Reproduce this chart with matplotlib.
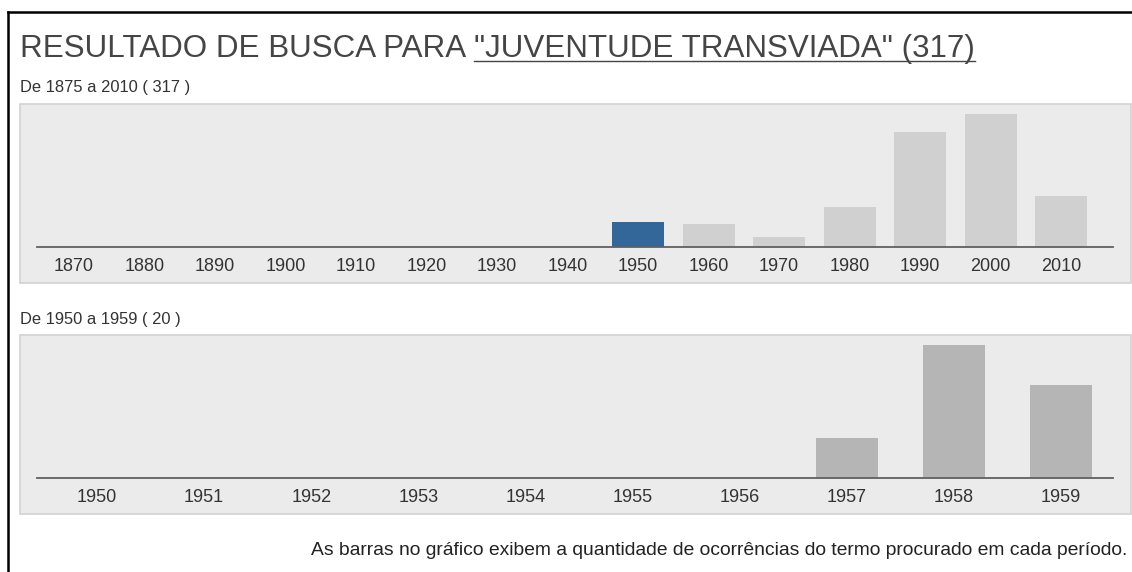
import matplotlib
matplotlib.use("Agg")
import matplotlib.pyplot as plt
from matplotlib.patches import Rectangle
from matplotlib.lines import Line2D

# data
decades = [1870, 1880, 1890, 1900, 1910, 1920, 1930, 1940,
           1950, 1960, 1970, 1980, 1990, 2000, 2010]
decade_counts = [0, 0, 0, 0, 0, 0, 0, 0, 20, 18, 8, 32, 92, 106, 41]
highlight_decade = 1950

years = [1950, 1951, 1952, 1953, 1954, 1955, 1956, 1957, 1958, 1959]
year_counts = [0, 0, 0, 0, 0, 0, 0, 3, 10, 7]

title_plain = "RESULTADO DE BUSCA PARA"
title_link = '"JUVENTUDE TRANSVIADA" (317)'
sub1 = "De 1875 a 2010 ( 317 )"
sub2 = "De 1950 a 1959 ( 20 )"
footer = ("As barras no gráfico exibem a quantidade de ocorrências "
          "do termo procurado em cada período.")

W, H = 1132, 572
plt.rcParams["font.family"] = ["Liberation Sans", "DejaVu Sans"]

fig = plt.figure(figsize=(W / 100, H / 100), dpi=100)
fig.patch.set_facecolor("white")


def fx(px):
    return px / W


def fy(py):
    return 1 - py / H


# page border (left and top)
fig.add_artist(Line2D([fx(8), fx(8)], [fy(12), fy(572)], color="black",
                      lw=1.8, transform=fig.transFigure))
fig.add_artist(Line2D([fx(8), fx(1132)], [fy(12), fy(12)], color="black",
                      lw=1.8, transform=fig.transFigure))

# title, second half underlined
t1 = fig.text(fx(20), fy(57), title_plain, fontsize=22.6, color="#454545",
              va="baseline", ha="left")
fig.canvas.draw()
r = fig.canvas.get_renderer()
bb = t1.get_window_extent(r)
t2 = fig.text((bb.x1 + 8) / W, fy(57), title_link, fontsize=22.6,
              color="#454545", va="baseline", ha="left")
bb2 = t2.get_window_extent(r)
fig.add_artist(Line2D([bb2.x0 / W, bb2.x1 / W], [fy(61), fy(61)],
                      color="#454545", lw=1.0, transform=fig.transFigure))


def panel(top, bottom, label, label_y):
    fig.add_artist(Rectangle((fx(20), fy(bottom)), fx(1131) - fx(20),
                             fy(top) - fy(bottom), transform=fig.transFigure,
                             facecolor="#ebebeb", edgecolor="#d2d2d2",
                             lw=1.2, zorder=0))
    fig.text(fx(20), fy(label_y), label, fontsize=11.9, color="#333333",
             va="baseline", ha="left")


def bar_chart(top, base, cats, vals, colors, center0, step, width):
    ax = fig.add_axes([fx(37), fy(base), fx(1113) - fx(37),
                       fy(top) - fy(base)])
    ax.patch.set_visible(False)
    idx = list(range(len(cats)))
    ax.bar(idx, vals, width=width / step, color=colors, zorder=2)
    ax.set_xlim((37 - center0) / step, (1113 - center0) / step)
    ax.set_ylim(0, max(vals) * 143 / 133)
    for s in ["top", "left", "right"]:
        ax.spines[s].set_visible(False)
    ax.spines["bottom"].set_color("#606060")
    ax.spines["bottom"].set_linewidth(1.3)
    ax.set_yticks([])
    ax.set_xticks(idx)
    ax.set_xticklabels([str(c) for c in cats], fontsize=13, color="#333333")
    ax.tick_params(axis="x", length=0, pad=8)
    return ax


# chart 1: by decade
panel(104, 283, sub1, 92)
dec_colors = ["#336699" if d == highlight_decade else "#d0d0d0"
              for d in decades]
bar_chart(104, 247, decades, decade_counts, dec_colors, 74, 70.5, 52)

# chart 2: by year
panel(335, 514, sub2, 324)
bar_chart(335, 478, years, year_counts, ["#b5b5b5"] * len(years),
          97, 107.1, 62)

fig.text(fx(1127), fy(555), footer, fontsize=13.85, color="#222222",
         va="baseline", ha="right")

fig.savefig("out.png", dpi=100)
